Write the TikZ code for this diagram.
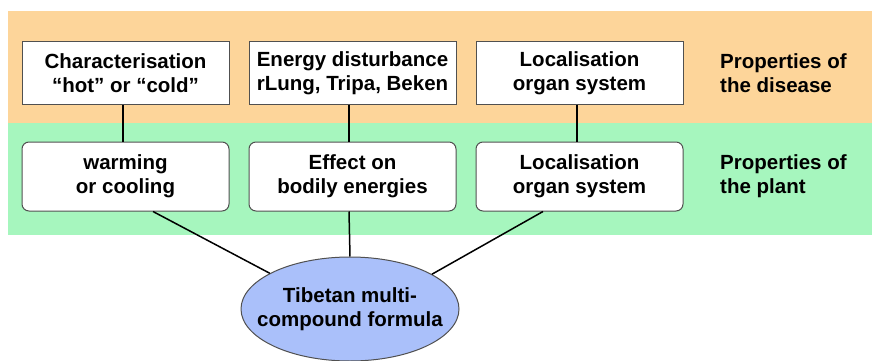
\documentclass[tikz,border=0pt]{standalone}
\usepackage{fontspec}
\setmainfont{Liberation Sans}
\usetikzlibrary{shapes.geometric}
\definecolor{diseaseband}{RGB}{253,213,154}
\definecolor{plantband}{RGB}{166,246,190}
\definecolor{formulablue}{RGB}{170,192,250}
\definecolor{boxline}{RGB}{80,80,80}
\tikzset{
  bigtext/.style={font=\bfseries\fontsize{20.5}{24}\selectfont},
  prop/.style={draw=boxline, fill=white, line width=1pt, minimum width=207pt, minimum height=62pt, inner sep=1pt, align=center, bigtext},
  effect/.style={prop, rounded corners=7pt, minimum height=69pt},
  band/.style={align=left, anchor=west, inner sep=0pt, bigtext},
  link/.style={line width=1.5pt}
}
\begin{document}
\begin{tikzpicture}[x=1pt,y=-1pt]
                \useasboundingbox (0,0) rectangle (872,361);
                \fill[diseaseband] (8,11) rectangle (872,123);
                \fill[plantband] (8,123) rectangle (872,235);

                \node[prop] (char) at (125.5,73) {Characterisation\\``hot'' or ``cold''};
                \node[prop] (energy) at (352.5,73) {Energy disturbance\\rLung, Tripa, Beken};
                \node[prop] (local) at (579.5,73) {Localisation\\organ system};
                \node[band] (disease) at (720,73) {Properties of\\the disease};

                \node[effect] (warm) at (125.5,176.5) {warming\\or cooling};
                \node[effect] (bodily) at (352.5,176.5) {Effect on\\bodily energies};
                \node[effect] (organ) at (579.5,176.5) {Localisation\\organ system};
                \node[band] (plant) at (720,176) {Properties of\\the plant};

                \node[ellipse, draw=boxline, fill=formulablue, line width=1pt, inner sep=0pt, minimum width=218pt, minimum height=104pt,
                      label={[align=center, bigtext]center:Tibetan multi-\\compound formula}] (formula) at (350,309) {};

                \draw[link] (char.south -| 123,0) -- (warm.north -| 123,0);
                \draw[link] (energy.south -| 349,0) -- (bodily.north -| 349,0);
                \draw[link] (local.south -| 577,0) -- (organ.north -| 577,0);
                \draw[link] (warm.south -| 153,0) -- (formula.156);
                \draw[link] (bodily.south -| 349,0) -- (formula.north);
                \draw[link] (organ.south -| 543,0) -- (formula.23);
            \end{tikzpicture}
\end{document}
